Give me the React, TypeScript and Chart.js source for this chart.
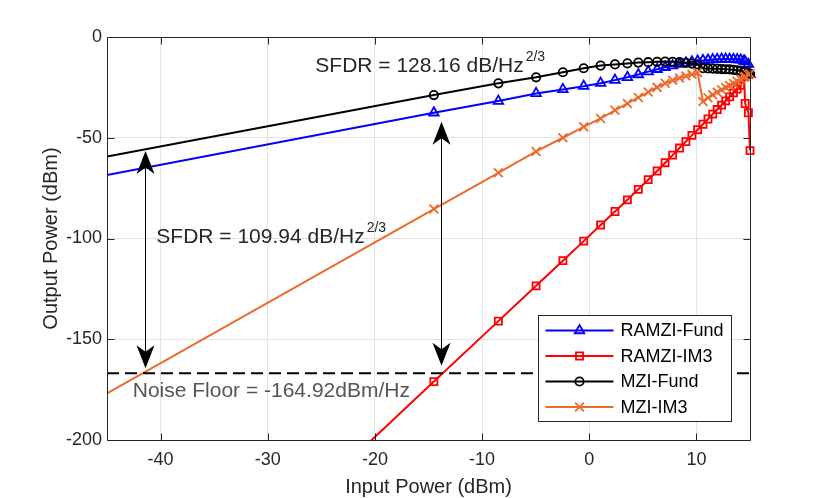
import React, { useEffect, useRef } from "react";
import { Chart, registerables } from "chart.js";

Chart.register(...registerables);

// ---------- data ----------
const inputPower = [
  -45, -14.5, -8.48, -4.96, -2.46, -0.52, 1.06, 2.4, 3.56, 4.58, 5.5, 6.33, 7.08, 7.78, 8.42, 9.02,
  9.58, 10.11, 10.61, 11.08, 11.52, 11.94, 12.35, 12.73, 13.1, 13.46, 13.8, 14.13, 14.44, 14.55, 14.85, 15.0,
];
const ramziFund = [
  -68.5, -37.6, -31.8, -28.0, -26.0, -24.4, -22.9, -21.4, -20.0, -18.6, -17.2, -16.0, -15.0, -14.2, -13.4, -12.8,
  -12.3, -11.9, -11.6, -11.4, -11.2, -11.1, -11.0, -11.0, -11.0, -11.1, -11.2, -11.4, -11.8, -12.2, -13.5, -18.5,
];
const ramziIM3 = [
  -323.5, -171, -141, -123.5, -111, -101.3, -93.3, -86.6, -80.8, -75.6, -70.8, -66.5, -62.4, -58.6, -55.1, -51.9,
  -48.8, -46.0, -43.3, -40.7, -38.3, -36.0, -33.8, -31.7, -29.7, -27.7, -25.9, -24.0, -19.5, -33.0, -37.6, -56.4,
];
const mziFund = [
  -59.3, -28.8, -23.0, -20.0, -17.5, -15.5, -14.2, -13.6, -13.1, -12.7, -12.5, -12.3, -12.2, -12.3, -12.5, -12.8,
  -13.2, -13.6, -15.5, -15.6, -15.7, -15.8, -15.9, -16.0, -16.1, -16.3, -16.5, -16.8, -17.1, -17.3, -17.8, -18.3,
];
const mziIM3 = [
  -176.9, -85.4, -67.4, -56.8, -50.0, -44.6, -40.4, -36.4, -33.0, -30.0, -27.3, -25.0, -23.0, -21.5, -20.3, -19.4,
  -18.5, -17.7, -32.0, -30.2, -28.7, -27.4, -26.2, -25.1, -24.1, -23.1, -22.0, -21.0, -20.0, -19.6, -18.7, -18.2,
];

const seriesNames = ["RAMZI-Fund", "RAMZI-IM3", "MZI-Fund", "MZI-IM3"];
const xTickValues = [-40, -30, -20, -10, 0, 10];
const yTickValues = [-200, -150, -100, -50, 0];

const noiseFloorLevel = -166.9;
const arrowX = [-41.5, -13.8];
const arrowTop = [-56.6, -42.0];
const arrowBottom = [-164.4, -163.2];

const xTitle = "Input Power (dBm)";
const yTitle = "Output Power (dBm)";
const sfdrHigh = "SFDR = 128.16 dB/Hz";
const sfdrLow = "SFDR = 109.94 dB/Hz";
const sfdrSup = "2/3";
const noiseText = "Noise Floor = -164.92dBm/Hz";

// ---------- style ----------
const FONT = '"Liberation Sans", Arial, Helvetica, sans-serif';
const AXIS_COLOR = "#262626";
const GRID_COLOR = "#e3e3e3";
const COLORS = ["#0000ff", "#ff0000", "#000000", "#ec6a2c"];
const STYLES = ["triangle", "rect", "circle", "crossRot"];
const RADII = [5.5, 5, 4.2, 6.2];

function drawMarker(ctx: CanvasRenderingContext2D, style: string, x: number, y: number, r: number, color: string) {
  ctx.save();
  ctx.strokeStyle = color;
  ctx.lineWidth = 1.8;
  ctx.beginPath();
  if (style === "triangle") {
    ctx.moveTo(x, y - r);
    ctx.lineTo(x + r * 0.866, y + r * 0.5);
    ctx.lineTo(x - r * 0.866, y + r * 0.5);
    ctx.closePath();
  } else if (style === "rect") {
    const s = r * Math.SQRT1_2;
    ctx.rect(x - s, y - s, 2 * s, 2 * s);
  } else if (style === "circle") {
    ctx.arc(x, y, r, 0, Math.PI * 2);
  } else {
    const s = r * Math.SQRT1_2;
    ctx.moveTo(x - s, y - s);
    ctx.lineTo(x + s, y + s);
    ctx.moveTo(x - s, y + s);
    ctx.lineTo(x + s, y - s);
  }
  ctx.stroke();
  ctx.restore();
}

function drawArrowHead(ctx: CanvasRenderingContext2D, x: number, tipY: number, dir: number) {
  // dir = -1 pointing up, +1 pointing down
  const len = 23;
  const half = 9;
  const back = tipY - dir * len;
  const notch = tipY - dir * len * 0.72;
  ctx.beginPath();
  ctx.moveTo(x, tipY);
  ctx.lineTo(x - half, back);
  ctx.lineTo(x, notch);
  ctx.lineTo(x + half, back);
  ctx.closePath();
  ctx.fill();
}

function drawSupText(ctx: CanvasRenderingContext2D, main: string, x: number, y: number, color: string) {
  ctx.fillStyle = color;
  ctx.font = `21px ${FONT}`;
  ctx.textAlign = "left";
  ctx.textBaseline = "alphabetic";
  ctx.fillText(main, x, y);
  const w = ctx.measureText(main).width;
  ctx.font = `14px ${FONT}`;
  ctx.fillText(sfdrSup, x + w + 2, y - 11);
}

const overlayPlugin = {
  id: "overlay",
  afterDatasetsDraw(chart: any) {
    const { ctx, chartArea: a, scales } = chart;
    const xs = scales.x;
    const ys = scales.y;
    ctx.save();

    // noise floor dashed line
    ctx.save();
    ctx.beginPath();
    ctx.rect(a.left, a.top, a.right - a.left, a.bottom - a.top);
    ctx.clip();
    ctx.setLineDash([12, 6]);
    ctx.lineWidth = 2;
    ctx.strokeStyle = "#000";
    const ny = ys.getPixelForValue(noiseFloorLevel);
    ctx.beginPath();
    ctx.moveTo(a.left, ny);
    ctx.lineTo(a.right, ny);
    ctx.stroke();
    ctx.restore();

    // double arrows
    ctx.fillStyle = "#000";
    ctx.strokeStyle = "#000";
    ctx.lineWidth = 1;
    for (let i = 0; i < arrowX.length; i++) {
      const px = Math.round(xs.getPixelForValue(arrowX[i])) + 0.5;
      const t = ys.getPixelForValue(arrowTop[i]);
      const b = ys.getPixelForValue(arrowBottom[i]);
      ctx.beginPath();
      ctx.moveTo(px, t + 15);
      ctx.lineTo(px, b - 15);
      ctx.stroke();
      drawArrowHead(ctx, px, t, -1);
      drawArrowHead(ctx, px, b, 1);
    }

    // text annotations (data coordinates)
    drawSupText(ctx, sfdrHigh, xs.getPixelForValue(-25.56), ys.getPixelForValue(-17.2), AXIS_COLOR);
    drawSupText(ctx, sfdrLow, xs.getPixelForValue(-40.4), ys.getPixelForValue(-102.4), AXIS_COLOR);
    ctx.fillStyle = "#555555";
    ctx.font = `21px ${FONT}`;
    ctx.textAlign = "left";
    ctx.textBaseline = "alphabetic";
    ctx.fillText(noiseText, xs.getPixelForValue(-42.6), ys.getPixelForValue(-178.8));

    // axes box with inward ticks
    ctx.strokeStyle = AXIS_COLOR;
    ctx.lineWidth = 1;
    const L = Math.round(a.left) + 0.5;
    const R = Math.round(a.right) + 0.5;
    const T = Math.round(a.top) + 0.5;
    const B = Math.round(a.bottom) + 0.5;
    ctx.beginPath();
    ctx.rect(L, T, R - L, B - T);
    const tl = 7;
    for (const v of xTickValues) {
      const px = Math.round(xs.getPixelForValue(v)) + 0.5;
      ctx.moveTo(px, B);
      ctx.lineTo(px, B - tl);
      ctx.moveTo(px, T);
      ctx.lineTo(px, T + tl);
    }
    for (const v of yTickValues) {
      const py = Math.round(ys.getPixelForValue(v)) + 0.5;
      ctx.moveTo(L, py);
      ctx.lineTo(L + tl, py);
      ctx.moveTo(R, py);
      ctx.lineTo(R - tl, py);
    }
    ctx.stroke();

    // axis titles
    ctx.fillStyle = AXIS_COLOR;
    ctx.font = `20px ${FONT}`;
    ctx.textAlign = "center";
    ctx.textBaseline = "alphabetic";
    ctx.fillText(xTitle, (a.left + a.right) / 2, 492.5);
    ctx.save();
    ctx.translate(57, (a.top + a.bottom) / 2);
    ctx.rotate(-Math.PI / 2);
    ctx.fillText(yTitle, 0, 0);
    ctx.restore();

    // legend
    const lx = R - 212;
    const ly = B - 125;
    const lw = 193;
    const lh = 106;
    ctx.fillStyle = "#ffffff";
    ctx.fillRect(lx, ly, lw, lh);
    ctx.strokeStyle = AXIS_COLOR;
    ctx.lineWidth = 1;
    ctx.strokeRect(lx, ly, lw, lh);
    for (let i = 0; i < seriesNames.length; i++) {
      const ry = ly + 15 + i * 25.5;
      ctx.strokeStyle = COLORS[i];
      ctx.lineWidth = 2;
      ctx.beginPath();
      ctx.moveTo(lx + 7, ry);
      ctx.lineTo(lx + 75, ry);
      ctx.stroke();
      drawMarker(ctx, STYLES[i], lx + 41, ry, RADII[i], COLORS[i]);
      ctx.fillStyle = "#000";
      ctx.font = `18px ${FONT}`;
      ctx.textAlign = "left";
      ctx.textBaseline = "middle";
      ctx.fillText(seriesNames[i], lx + 82, ry + 1);
    }

    ctx.restore();
  },
};

export default function App() {
  const canvasRef = useRef<HTMLCanvasElement>(null);

  useEffect(() => {
    document.body.style.margin = "0";
    const seriesValues = [ramziFund, ramziIM3, mziFund, mziIM3];
    const datasets = seriesValues.map((vals, si) => ({
      label: seriesNames[si],
      data: inputPower.map((x, i) => ({ x, y: vals[i] })),
      borderColor: COLORS[si],
      backgroundColor: "rgba(0,0,0,0)",
      borderWidth: 2,
      pointStyle: STYLES[si] as any,
      pointRadius: (c: any) => (c.dataIndex === 0 ? 0 : RADII[si]),
      pointBorderColor: COLORS[si],
      pointBackgroundColor: "rgba(0,0,0,0)",
      pointBorderWidth: 1.8,
      tension: 0,
      fill: false,
      clip: { left: 0, top: 8, right: 8, bottom: 0 },
      order: 4 - si,
    }));

    const chart = new Chart(canvasRef.current as HTMLCanvasElement, {
      type: "line",
      data: { datasets },
      plugins: [overlayPlugin],
      options: {
        responsive: false,
        animation: false,
        devicePixelRatio: 1,
        events: [],
        layout: { padding: { left: 0, right: 80, top: 37, bottom: 0 } },
        plugins: { legend: { display: false }, tooltip: { enabled: false } },
        scales: {
          x: {
            type: "linear",
            min: -45,
            max: 15,
            afterBuildTicks: (s: any) => {
              s.ticks = xTickValues.map((v) => ({ value: v }));
            },
            afterFit: (s: any) => {
              s.height = 58;
              s.paddingLeft = 0;
              s.paddingRight = 0;
            },
            ticks: {
              autoSkip: false,
              maxRotation: 0,
              padding: 9,
              color: AXIS_COLOR,
              font: { family: FONT, size: 18 },
            },
            grid: { color: GRID_COLOR, lineWidth: 1, drawTicks: false },
            border: { display: false },
          },
          y: {
            type: "linear",
            min: -200,
            max: 0,
            afterBuildTicks: (s: any) => {
              s.ticks = yTickValues.map((v) => ({ value: v }));
            },
            afterFit: (s: any) => {
              s.width = 107;
              s.paddingTop = 0;
              s.paddingBottom = 0;
            },
            ticks: {
              autoSkip: false,
              padding: 5,
              color: AXIS_COLOR,
              font: { family: FONT, size: 18 },
            },
            grid: { color: GRID_COLOR, lineWidth: 1, drawTicks: false },
            border: { display: false },
          },
        },
      },
    } as any);

    return () => chart.destroy();
  }, []);

  return (
    <div style={{ width: 830, height: 498, position: "relative", background: "#fff" }}>
      <canvas ref={canvasRef} width={830} height={498} style={{ display: "block" }} />
    </div>
  );
}
